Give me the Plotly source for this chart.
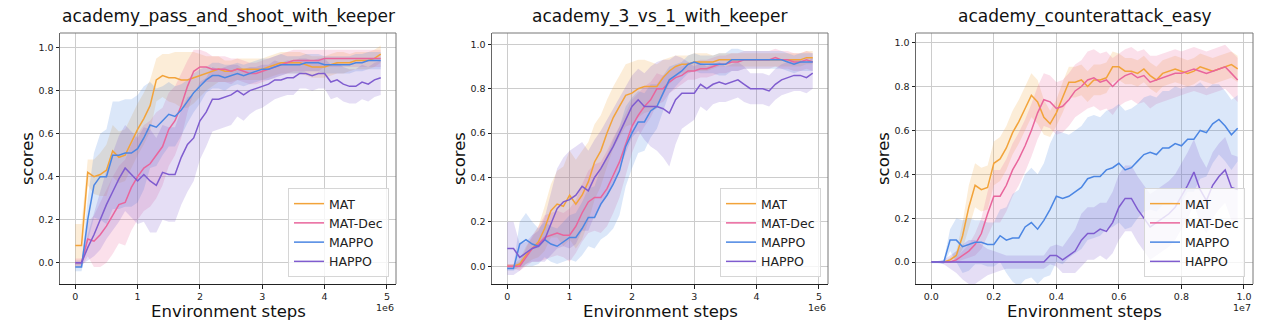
import plotly.graph_objects as go
import numpy as np

# ---------------- data ----------------
titles = ["academy_pass_and_shoot_with_keeper", "academy_3_vs_1_with_keeper", "academy_counterattack_easy"]
series_names = ["MAT", "MAT-Dec", "MAPPO", "HAPPO"]
colors = ["#F2A33A", "#E9659C", "#4B86E3", "#7F5CCF"]

steps_5m = [i * 0.1e6 for i in range(50)]
steps_10m = [i * 0.2e6 for i in range(50)]

# chart 1: academy_pass_and_shoot_with_keeper
c1_mat = [0.08, 0.08, 0.42, 0.40, 0.41, 0.43, 0.52, 0.49, 0.50, 0.56, 0.62, 0.67, 0.73, 0.85, 0.87, 0.86, 0.86, 0.85, 0.85, 0.86,
          0.87, 0.88, 0.89, 0.90, 0.89, 0.89, 0.90, 0.90, 0.90, 0.90, 0.90, 0.91, 0.92, 0.93, 0.93, 0.93, 0.93, 0.92, 0.91, 0.91,
          0.91, 0.92, 0.93, 0.93, 0.93, 0.94, 0.94, 0.94, 0.95, 0.97]
c1_matdec = [0.00, 0.00, 0.11, 0.10, 0.13, 0.17, 0.22, 0.27, 0.28, 0.35, 0.40, 0.44, 0.46, 0.50, 0.54, 0.62, 0.66, 0.73, 0.82, 0.89,
             0.91, 0.91, 0.90, 0.90, 0.90, 0.89, 0.90, 0.89, 0.88, 0.88, 0.89, 0.90, 0.91, 0.92, 0.93, 0.94, 0.94, 0.94, 0.94, 0.94,
             0.95, 0.95, 0.95, 0.95, 0.95, 0.95, 0.95, 0.95, 0.95, 0.95]
c1_mappo = [-0.02, -0.02, 0.20, 0.36, 0.40, 0.40, 0.50, 0.50, 0.51, 0.51, 0.53, 0.58, 0.64, 0.63, 0.66, 0.69, 0.68, 0.71, 0.75, 0.79,
            0.82, 0.85, 0.87, 0.87, 0.86, 0.87, 0.88, 0.87, 0.88, 0.89, 0.90, 0.90, 0.91, 0.92, 0.92, 0.92, 0.92, 0.93, 0.93, 0.93,
            0.92, 0.92, 0.92, 0.92, 0.92, 0.93, 0.93, 0.94, 0.94, 0.94]
c1_happo = [0.00, 0.00, 0.07, 0.13, 0.20, 0.27, 0.33, 0.39, 0.44, 0.41, 0.38, 0.41, 0.38, 0.36, 0.42, 0.41, 0.41, 0.49, 0.55, 0.58,
            0.66, 0.70, 0.76, 0.76, 0.77, 0.78, 0.80, 0.78, 0.80, 0.81, 0.82, 0.83, 0.85, 0.85, 0.86, 0.86, 0.88, 0.88, 0.87, 0.88,
            0.88, 0.84, 0.85, 0.83, 0.82, 0.82, 0.84, 0.83, 0.85, 0.86]
c1_mat_sd = [0.10, 0.10, 0.06, 0.08, 0.10, 0.12, 0.12, 0.12, 0.12, 0.12, 0.12, 0.12, 0.12, 0.10, 0.10, 0.11, 0.12, 0.13, 0.13, 0.12,
             0.10, 0.08, 0.07, 0.06, 0.05, 0.05, 0.05, 0.05, 0.05, 0.05, 0.05, 0.05, 0.05, 0.05, 0.05, 0.05, 0.05, 0.05, 0.05, 0.05,
             0.05, 0.05, 0.05, 0.05, 0.04, 0.04, 0.04, 0.04, 0.04, 0.04]
c1_matdec_sd = [0.02, 0.02, 0.08, 0.12, 0.15, 0.17, 0.18, 0.18, 0.20, 0.20, 0.20, 0.20, 0.20, 0.20, 0.18, 0.17, 0.16, 0.15, 0.12, 0.10,
                0.08, 0.07, 0.06, 0.06, 0.06, 0.06, 0.05, 0.05, 0.05, 0.05, 0.05, 0.05, 0.05, 0.05, 0.05, 0.05, 0.05, 0.05, 0.05, 0.05,
                0.04, 0.04, 0.04, 0.04, 0.04, 0.04, 0.04, 0.04, 0.04, 0.04]
c1_mappo_sd = [0.02, 0.02, 0.10, 0.15, 0.20, 0.22, 0.25, 0.25, 0.25, 0.25, 0.25, 0.24, 0.20, 0.18, 0.16, 0.15, 0.14, 0.12, 0.10, 0.09,
               0.08, 0.06, 0.06, 0.06, 0.06, 0.05, 0.05, 0.05, 0.05, 0.05, 0.05, 0.05, 0.05, 0.05, 0.04, 0.04, 0.04, 0.04, 0.04, 0.04,
               0.04, 0.04, 0.04, 0.04, 0.04, 0.04, 0.04, 0.04, 0.04, 0.04]
c1_happo_sd = [0.01, 0.01, 0.06, 0.10, 0.14, 0.16, 0.18, 0.20, 0.20, 0.20, 0.20, 0.22, 0.24, 0.22, 0.22, 0.22, 0.22, 0.22, 0.22, 0.20,
               0.18, 0.16, 0.15, 0.14, 0.14, 0.14, 0.12, 0.12, 0.11, 0.10, 0.10, 0.09, 0.09, 0.08, 0.08, 0.08, 0.07, 0.07, 0.07, 0.07,
               0.07, 0.08, 0.08, 0.08, 0.08, 0.08, 0.08, 0.08, 0.08, 0.08]

# chart 2: academy_3_vs_1_with_keeper
c2_mat = [0.00, 0.00, 0.01, 0.05, 0.08, 0.11, 0.17, 0.25, 0.28, 0.27, 0.32, 0.28, 0.32, 0.38, 0.47, 0.52, 0.60, 0.67, 0.72, 0.77,
          0.78, 0.80, 0.81, 0.81, 0.81, 0.85, 0.88, 0.90, 0.91, 0.91, 0.92, 0.92, 0.92, 0.92, 0.93, 0.93, 0.93, 0.93, 0.93, 0.93,
          0.93, 0.93, 0.93, 0.93, 0.93, 0.93, 0.93, 0.93, 0.94, 0.94]
c2_matdec = [0.00, 0.00, 0.00, 0.04, 0.08, 0.10, 0.13, 0.14, 0.15, 0.14, 0.14, 0.18, 0.24, 0.29, 0.31, 0.31, 0.35, 0.41, 0.47, 0.55,
             0.63, 0.68, 0.72, 0.75, 0.80, 0.80, 0.83, 0.85, 0.86, 0.88, 0.88, 0.89, 0.89, 0.90, 0.91, 0.91, 0.92, 0.92, 0.93, 0.93,
             0.93, 0.93, 0.93, 0.94, 0.93, 0.93, 0.92, 0.92, 0.93, 0.92]
c2_mappo = [-0.01, -0.01, 0.10, 0.12, 0.10, 0.09, 0.12, 0.10, 0.09, 0.11, 0.13, 0.13, 0.17, 0.22, 0.22, 0.28, 0.32, 0.37, 0.43, 0.54,
            0.60, 0.65, 0.65, 0.70, 0.72, 0.78, 0.84, 0.86, 0.88, 0.91, 0.92, 0.91, 0.91, 0.91, 0.91, 0.91, 0.93, 0.93, 0.93, 0.93,
            0.93, 0.93, 0.93, 0.93, 0.93, 0.92, 0.91, 0.92, 0.92, 0.92]
c2_happo = [0.08, 0.08, 0.04, 0.06, 0.08, 0.09, 0.12, 0.19, 0.26, 0.29, 0.30, 0.32, 0.36, 0.34, 0.40, 0.44, 0.49, 0.54, 0.60, 0.66,
            0.72, 0.75, 0.72, 0.72, 0.72, 0.71, 0.69, 0.75, 0.78, 0.78, 0.78, 0.82, 0.80, 0.82, 0.83, 0.82, 0.83, 0.84, 0.82, 0.80,
            0.80, 0.80, 0.79, 0.82, 0.84, 0.85, 0.86, 0.86, 0.85, 0.87]
c2_mat_sd = [0.01, 0.01, 0.02, 0.04, 0.05, 0.07, 0.10, 0.12, 0.15, 0.18, 0.20, 0.20, 0.20, 0.18, 0.17, 0.16, 0.15, 0.14, 0.14, 0.14,
             0.14, 0.13, 0.12, 0.11, 0.10, 0.08, 0.06, 0.05, 0.04, 0.04, 0.04, 0.04, 0.04, 0.03, 0.03, 0.03, 0.03, 0.03, 0.03, 0.03,
             0.03, 0.03, 0.03, 0.03, 0.03, 0.03, 0.03, 0.03, 0.03, 0.03]
c2_matdec_sd = [0.01, 0.01, 0.02, 0.04, 0.06, 0.08, 0.10, 0.10, 0.10, 0.10, 0.12, 0.12, 0.13, 0.14, 0.15, 0.16, 0.17, 0.17, 0.16, 0.14,
                0.12, 0.10, 0.09, 0.08, 0.07, 0.06, 0.05, 0.05, 0.04, 0.04, 0.04, 0.04, 0.04, 0.04, 0.04, 0.04, 0.04, 0.04, 0.04, 0.04,
                0.04, 0.04, 0.04, 0.04, 0.04, 0.04, 0.04, 0.04, 0.04, 0.04]
c2_mappo_sd = [0.01, 0.01, 0.10, 0.12, 0.10, 0.08, 0.08, 0.08, 0.08, 0.09, 0.10, 0.11, 0.12, 0.13, 0.14, 0.16, 0.18, 0.20, 0.20, 0.18,
               0.16, 0.14, 0.13, 0.12, 0.10, 0.08, 0.06, 0.05, 0.04, 0.04, 0.04, 0.04, 0.04, 0.04, 0.05, 0.05, 0.05, 0.05, 0.04, 0.04,
               0.04, 0.04, 0.04, 0.04, 0.04, 0.04, 0.04, 0.04, 0.04, 0.04]
c2_happo_sd = [0.12, 0.12, 0.06, 0.05, 0.06, 0.07, 0.10, 0.14, 0.18, 0.20, 0.22, 0.22, 0.20, 0.18, 0.17, 0.17, 0.17, 0.17, 0.16, 0.15,
               0.14, 0.14, 0.15, 0.18, 0.20, 0.22, 0.24, 0.20, 0.16, 0.14, 0.12, 0.10, 0.10, 0.09, 0.09, 0.08, 0.08, 0.08, 0.08, 0.07,
               0.07, 0.07, 0.07, 0.07, 0.07, 0.07, 0.07, 0.07, 0.07, 0.07]

# chart 3: academy_counterattack_easy
c3_mat = [0.00, 0.00, 0.00, 0.01, 0.03, 0.12, 0.25, 0.35, 0.33, 0.34, 0.45, 0.47, 0.52, 0.59, 0.64, 0.70, 0.76, 0.73, 0.66, 0.63,
          0.68, 0.75, 0.82, 0.82, 0.83, 0.80, 0.83, 0.83, 0.84, 0.89, 0.89, 0.87, 0.87, 0.86, 0.88, 0.85, 0.83, 0.86, 0.87, 0.88,
          0.87, 0.86, 0.87, 0.89, 0.88, 0.87, 0.88, 0.89, 0.90, 0.88]
c3_matdec = [0.00, 0.00, 0.00, 0.00, 0.01, 0.03, 0.05, 0.08, 0.13, 0.22, 0.30, 0.30, 0.35, 0.42, 0.47, 0.53, 0.60, 0.68, 0.74, 0.73,
             0.70, 0.71, 0.74, 0.78, 0.80, 0.83, 0.84, 0.82, 0.83, 0.80, 0.83, 0.85, 0.86, 0.84, 0.85, 0.82, 0.83, 0.84, 0.85, 0.86,
             0.86, 0.87, 0.88, 0.87, 0.86, 0.87, 0.88, 0.89, 0.86, 0.83]
c3_mappo = [0.00, 0.00, 0.00, 0.10, 0.10, 0.07, 0.08, 0.09, 0.09, 0.08, 0.08, 0.12, 0.10, 0.11, 0.11, 0.16, 0.18, 0.15, 0.19, 0.24,
            0.30, 0.29, 0.30, 0.32, 0.34, 0.38, 0.39, 0.39, 0.42, 0.43, 0.45, 0.42, 0.43, 0.46, 0.49, 0.50, 0.49, 0.52, 0.52, 0.54,
            0.53, 0.56, 0.56, 0.60, 0.59, 0.63, 0.65, 0.62, 0.58, 0.61]
c3_happo = [0.00, 0.00, 0.00, 0.00, 0.00, 0.00, 0.00, 0.00, 0.00, 0.00, 0.00, 0.00, 0.00, 0.00, 0.00, 0.00, 0.00, 0.00, 0.00, 0.03,
            0.03, 0.01, 0.03, 0.05, 0.10, 0.13, 0.13, 0.15, 0.14, 0.18, 0.25, 0.29, 0.29, 0.24, 0.20, 0.16, 0.18, 0.20, 0.22, 0.25,
            0.30, 0.35, 0.41, 0.33, 0.28, 0.35, 0.39, 0.42, 0.34, 0.33]
c3_mat_sd = [0.00, 0.00, 0.00, 0.01, 0.02, 0.06, 0.10, 0.10, 0.10, 0.10, 0.10, 0.10, 0.10, 0.10, 0.10, 0.10, 0.10, 0.10, 0.08, 0.06,
             0.06, 0.07, 0.07, 0.07, 0.07, 0.07, 0.07, 0.07, 0.07, 0.07, 0.06, 0.06, 0.06, 0.06, 0.06, 0.06, 0.06, 0.06, 0.06, 0.06,
             0.06, 0.06, 0.06, 0.06, 0.06, 0.06, 0.06, 0.06, 0.06, 0.06]
c3_matdec_sd = [0.00, 0.00, 0.00, 0.00, 0.01, 0.02, 0.03, 0.05, 0.07, 0.10, 0.12, 0.12, 0.12, 0.12, 0.12, 0.12, 0.12, 0.12, 0.12, 0.12,
                0.12, 0.12, 0.12, 0.12, 0.12, 0.13, 0.13, 0.13, 0.13, 0.13, 0.12, 0.12, 0.12, 0.12, 0.12, 0.12, 0.11, 0.11, 0.11, 0.11,
                0.10, 0.10, 0.10, 0.10, 0.10, 0.10, 0.10, 0.10, 0.10, 0.10]
c3_mappo_sd = [0.005, 0.005, 0.01, 0.05, 0.10, 0.12, 0.12, 0.10, 0.10, 0.10, 0.10, 0.12, 0.15, 0.20, 0.22, 0.24, 0.25, 0.25, 0.26, 0.30,
               0.30, 0.30, 0.28, 0.28, 0.28, 0.28, 0.28, 0.27, 0.27, 0.27, 0.27, 0.27, 0.27, 0.26, 0.26, 0.26, 0.26, 0.26, 0.26, 0.26,
               0.26, 0.24, 0.24, 0.22, 0.20, 0.18, 0.16, 0.16, 0.16, 0.15]
c3_happo_sd = [0.00, 0.00, 0.01, 0.03, 0.05, 0.08, 0.10, 0.10, 0.08, 0.06, 0.05, 0.04, 0.03, 0.03, 0.03, 0.03, 0.03, 0.03, 0.03, 0.04,
               0.05, 0.06, 0.08, 0.10, 0.12, 0.12, 0.12, 0.12, 0.13, 0.14, 0.15, 0.15, 0.15, 0.15, 0.15, 0.15, 0.15, 0.15, 0.15, 0.15,
               0.15, 0.15, 0.15, 0.15, 0.15, 0.15, 0.15, 0.15, 0.15, 0.15]

charts = [
    dict(x=steps_5m, means=[c1_mat, c1_matdec, c1_mappo, c1_happo], sds=[c1_mat_sd, c1_matdec_sd, c1_mappo_sd, c1_happo_sd]),
    dict(x=steps_5m, means=[c2_mat, c2_matdec, c2_mappo, c2_happo], sds=[c2_mat_sd, c2_matdec_sd, c2_mappo_sd, c2_happo_sd]),
    dict(x=steps_10m, means=[c3_mat, c3_matdec, c3_mappo, c3_happo], sds=[c3_mat_sd, c3_matdec_sd, c3_mappo_sd, c3_happo_sd]),
]

x_tickvals = [[0, 1e6, 2e6, 3e6, 4e6, 5e6], [0, 1e6, 2e6, 3e6, 4e6, 5e6], [0, 2e6, 4e6, 6e6, 8e6, 10e6]]
x_ticktext = [["0", "1", "2", "3", "4", "5"], ["0", "1", "2", "3", "4", "5"], ["0.0", "0.2", "0.4", "0.6", "0.8", "1.0"]]
x_exponent = ["1e6", "1e6", "1e7"]
y_tickvals = [0.0, 0.2, 0.4, 0.6, 0.8, 1.0]
y_ticktext = ["0.0", "0.2", "0.4", "0.6", "0.8", "1.0"]

# ---------------- layout geometry ----------------
W, H = 1280, 335
x_px = [(60, 396), (492, 828), (916, 1253)]
y_px = (33, 284)
x_ranges = [(-0.245e6, 5.145e6), (-0.245e6, 5.145e6), (-0.245e6 * 2, 10.29e6)]
y_ranges = [(-0.099, 1.068), (-0.08, 1.051), (-0.1, 1.044)]
legend_pos = [(389, 277), (821, 277), (1245, 277)]

FONT = "DejaVu Sans"


def rgba(hexc, a):
    h = hexc.lstrip("#")
    return "rgba(%d,%d,%d,%.2f)" % (int(h[0:2], 16), int(h[2:4], 16), int(h[4:6], 16), a)


fig = go.Figure()
shapes = []
annotations = []
ydom = [1 - y_px[1] / H, 1 - y_px[0] / H]

for ci, ch in enumerate(charts):
    sfx = "" if ci == 0 else str(ci + 1)
    xa, ya = "x" + sfx, "y" + sfx
    lg = "legend" + sfx
    x = np.array(ch["x"])
    # bands
    for si in range(4):
        m = np.array(ch["means"][si])
        s = np.array(ch["sds"][si])
        fig.add_trace(go.Scatter(
            x=np.concatenate([x, x[::-1]]), y=np.concatenate([m + s, (m - s)[::-1]]),
            fill="toself", fillcolor=rgba(colors[si], 0.2), line=dict(width=0),
            hoverinfo="skip", showlegend=False, xaxis=xa, yaxis=ya))
    for si in range(4):
        fig.add_trace(go.Scatter(
            x=x, y=ch["means"][si], mode="lines", name=series_names[si],
            line=dict(color=colors[si], width=1.5), xaxis=xa, yaxis=ya, legend=lg))

    xdom = [x_px[ci][0] / W, x_px[ci][1] / W]
    fig.update_layout(**{
        "xaxis" + sfx: dict(domain=xdom, range=list(x_ranges[ci]), anchor=ya,
                            tickvals=x_tickvals[ci], ticktext=x_ticktext[ci],
                            showgrid=True, gridcolor="#cccccc", gridwidth=1.2,
                            showline=True, linecolor="#222222", linewidth=1,
                            ticks="outside", ticklen=3.5, tickcolor="#222222",
                            tickfont=dict(family=FONT, size=9.5, color="#222222"),
                            zeroline=False, fixedrange=True),
        "yaxis" + sfx: dict(domain=ydom, range=list(y_ranges[ci]), anchor=xa,
                            tickvals=y_tickvals, ticktext=y_ticktext,
                            showgrid=True, gridcolor="#cccccc", gridwidth=1.2,
                            showline=True, linecolor="#666666", linewidth=1,
                            ticks="outside", ticklen=3.5, tickcolor="#222222",
                            tickfont=dict(family=FONT, size=9.5, color="#222222"),
                            zeroline=False, fixedrange=True),
        lg: dict(x=legend_pos[ci][0] / W, y=1 - legend_pos[ci][1] / H, xanchor="right", yanchor="bottom",
                 bgcolor="rgba(255,255,255,0.8)", bordercolor="#d6d6d6", borderwidth=1,
                 font=dict(family=FONT, size=12.5, color="#222222"), tracegroupgap=0),
    })
    # top & right spines
    shapes.append(dict(type="line", xref="paper", yref="paper", x0=xdom[0], x1=xdom[1], y0=ydom[1], y1=ydom[1],
                       line=dict(color="#777777", width=1)))
    shapes.append(dict(type="line", xref="paper", yref="paper", x0=xdom[1], x1=xdom[1], y0=ydom[0], y1=ydom[1],
                       line=dict(color="#777777", width=1)))
    cx = (xdom[0] + xdom[1]) / 2
    annotations.append(dict(text=titles[ci], xref="paper", yref="paper", x=cx, y=1 - 17 / H,
                            xanchor="center", yanchor="middle", showarrow=False,
                            font=dict(family=FONT, size=17, color="#111111")))
    annotations.append(dict(text="Environment steps", xref="paper", yref="paper", x=cx, y=1 - 311 / H,
                            xanchor="center", yanchor="middle", showarrow=False,
                            font=dict(family=FONT, size=16.5, color="#111111")))
    annotations.append(dict(text="scores", xref="paper", yref="paper", x=(x_px[ci][0] - 33) / W, y=1 - 159 / H,
                            xanchor="center", yanchor="middle", showarrow=False, textangle=-90,
                            font=dict(family=FONT, size=16.5, color="#111111")))
    annotations.append(dict(text=x_exponent[ci], xref="paper", yref="paper", x=xdom[1], y=1 - 307 / H,
                            xanchor="right", yanchor="middle", showarrow=False,
                            font=dict(family=FONT, size=9.5, color="#222222")))

fig.update_layout(width=W, height=H, margin=dict(l=0, r=0, t=0, b=0),
                  paper_bgcolor="white", plot_bgcolor="white",
                  shapes=shapes, annotations=annotations, showlegend=True)

fig.write_html("out.html", config={"displayModeBar": False})
